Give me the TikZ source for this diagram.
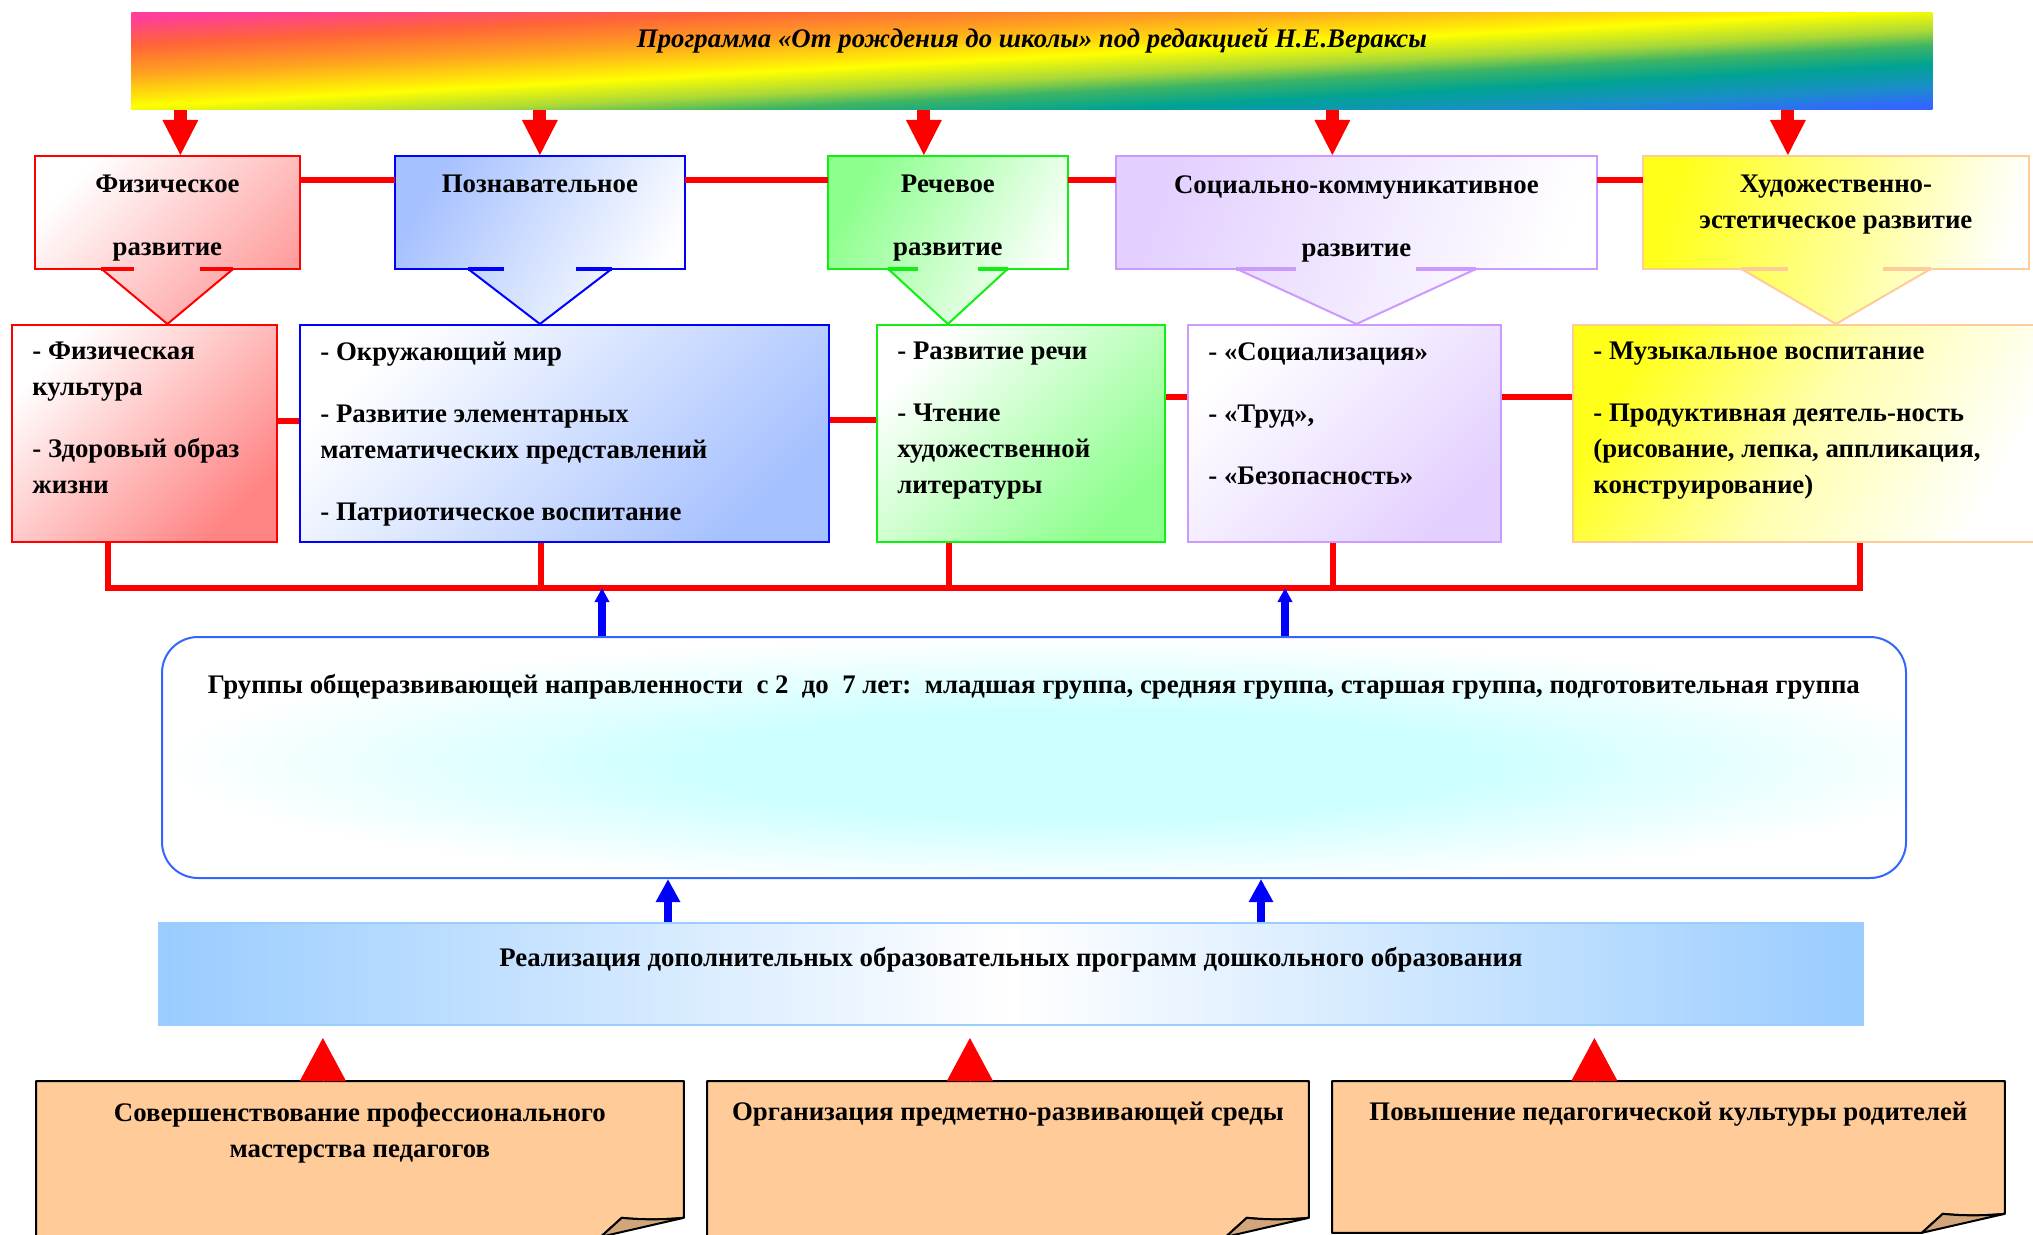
\documentclass[tikz,border=0pt]{standalone}
\usepackage{fontspec}
\setmainfont{Liberation Serif}
\usetikzlibrary{arrows.meta}
\usetikzlibrary{positioning,calc}

\definecolor{physred}{HTML}{FF0000}
\definecolor{physpink}{HTML}{FF9C9C}
\definecolor{physrose}{HTML}{FF8484}
\definecolor{cognblue}{HTML}{0000FF}
\definecolor{cognsky}{HTML}{A6C1FF}
\definecolor{speechgreen}{HTML}{11EE11}
\definecolor{speechmint}{HTML}{8CFF8C}
\definecolor{socviolet}{HTML}{CC99FF}
\definecolor{soclilac}{HTML}{E3D0FF}
\definecolor{artorange}{HTML}{FFCC99}
\definecolor{artyellow}{HTML}{FFFF1A}
\definecolor{artcream}{HTML}{FFFFB0}
\definecolor{groupblue}{HTML}{3366FF}
\definecolor{groupcyan}{HTML}{CCFFFF}
\definecolor{realblue}{HTML}{99CCFF}
\definecolor{notepeach}{HTML}{FFCC99}
\definecolor{noteflap}{HTML}{D2A67A}
\definecolor{rbpink}{HTML}{FF3D9A}
\definecolor{rbred}{HTML}{FF6438}
\definecolor{rborange}{HTML}{FFA020}
\definecolor{rbyellow}{HTML}{FFFF00}
\definecolor{rblime}{HTML}{A8D838}
\definecolor{rbgreen}{HTML}{3CB464}
\definecolor{rbteal}{HTML}{00A393}
\definecolor{rbsea}{HTML}{1A8EC8}
\definecolor{rbblue}{HTML}{3366FF}

\pgfdeclareverticalshading{rainbow}{100bp}{color(0bp)=(rbblue); color(25bp)=(rbblue); color(30bp)=(rbsea); color(36bp)=(rbteal); color(41bp)=(rbgreen); color(45bp)=(rblime); color(51bp)=(rbyellow); color(60bp)=(rborange); color(67.5bp)=(rbred); color(75bp)=(rbpink); color(100bp)=(rbpink)}
\pgfdeclareradialshading{glow}{\pgfpoint{2bp}{-2bp}}{color(0bp)=(groupcyan); color(11bp)=(groupcyan); color(26bp)=(white); color(50bp)=(white)}

\begin{document}
\begin{tikzpicture}[x=0.5pt,y=-0.5pt]
\tikzset{
    banner/.style={
        rectangle,
        shade,
        shading=rainbow,
        shading angle=3.1,
        anchor=north west,
        minimum width=900.5pt,
        minimum height=48.5pt,
    },
    area/.style={ % empty box, its outline and pointer are drawn later
        rectangle,
        inner sep=0pt,
        anchor=north west,
        minimum width=#1,
        minimum height=56pt,
    },
    items/.style={
        rectangle,
        draw,
        line width=1pt,
        inner sep=0pt,
        anchor=north west,
        minimum width=#1,
        minimum height=108.5pt,
    },
    groups/.style={
        rectangle,
        rounded corners=18pt,
        draw=groupblue,
        line width=1pt,
        shade,
        shading=glow,
        anchor=north west,
        minimum width=872pt,
        minimum height=120.5pt,
    },
    realise/.style={
        rectangle,
        draw=realblue,
        line width=1pt,
        left color=realblue,
        right color=realblue,
        middle color=white,
        anchor=north west,
        minimum width=852pt,
        minimum height=51pt,
    },
    note/.style={
        rectangle,
        inner sep=0pt,
        anchor=north west,
        minimum width=#1,
    },
    bannertext/.style={
        font=\fontsize{13.4pt}{18pt}\selectfont\bfseries\itshape,
        inner sep=0pt,
    },
    heading/.style={
        font=\fontsize{13.4pt}{18pt}\selectfont\bfseries,
        align=center,
        inner sep=0pt,
    },
    listing/.style={
        font=\fontsize{13.4pt}{18pt}\selectfont\bfseries,
        align=left,
        inner sep=0pt,
    },
    feed/.style={
        red,
        line width=6.5pt,
        -{Triangle[length=18pt, width=16.5pt]},
    },
    link/.style={
        red,
        line width=3pt,
    },
    lift/.style={
        blue,
        line width=4pt,
        -{Triangle[length=#1, width=#1]},
    },
    lift/.default=11.5pt,
    spike/.style={
        red,
        line width=0.4pt,
        -{Triangle[length=21.5pt, width=23pt]},
    },
}
\useasboundingbox (0,0) rectangle (2033,1235);

\node[banner] (banner) at (131,12) {};
\node[bannertext, below=8pt of banner.north] (title) {Программа «От рождения до школы» под редакцией Н.Е.Вераксы};

% five directions
\node[area=132pt] (phys) at (35,156) {};
\node[area=144.5pt] (cogn) at (395,156) {};
\node[area=119.5pt] (speech) at (828,156) {};
\node[area=240pt] (soc) at (1116,156) {};
\node[area=192.5pt] (art) at (1643,156) {};

% what each direction holds
\node[items=132.5pt, draw=physred, top color=white, bottom color=physrose, shading angle=45] (phys-list) at (11,324) {};
\node[items=264.5pt, draw=cognblue, top color=white, bottom color=cognsky, shading angle=45] (cogn-list) at (299,324) {};
\node[items=144pt, draw=speechgreen, top color=white, bottom color=speechmint, shading angle=45] (speech-list) at (876,324) {};
\node[items=156.5pt, draw=socviolet, top color=white, bottom color=soclilac, shading angle=45] (soc-list) at (1187,324) {};
\node[items=236.5pt, draw=artorange, top color=artyellow, bottom color=white, middle color=artcream, shading angle=60] (art-list) at (1572,324) {};

% boxes with pointers
\foreach \nm/\hb/\ec/\ca/\cb/\ang in {
    phys/66/physred/white/physpink/45,
    cogn/72/cognblue/cognsky/white/60,
    speech/60/speechgreen/speechmint/white/60,
    soc/120/socviolet/soclilac/white/70,
    art/95/artorange/artyellow/white/75}{
  \shade[top color=\ca, bottom color=\cb, shading angle=\ang]
    (\nm.north west) -- (\nm.north east) -- (\nm.south east)
    -- ($(\nm.south)+(\hb,0)$) -- (\nm.south |- \nm-list.north)
    -- ($(\nm.south)-(\hb,0)$) -- (\nm.south west) -- cycle;
  \draw[\ec, line width=1pt]
    ($(\nm.south)+(\hb/2,0)$) -- (\nm.south east) |- (\nm.north west)
    |- ($(\nm.south)-(\hb/2,0)$);
  \draw[\ec, line width=1pt]
    ($(\nm.south)+(\hb,0)$) -- (\nm.south |- \nm-list.north) -- ($(\nm.south)-(\hb,0)$);
  \draw[\ec, line width=2pt]
    ($(\nm.south)+(\hb,0)$) -- ($(\nm.south)+(\hb/2,0)$)
    ($(\nm.south)-(\hb,0)$) -- ($(\nm.south)-(\hb/2,0)$);
}

\foreach \nm/\dx in {phys/6.5pt, cogn/0pt, speech/-12pt, soc/-12pt, art/-24pt}
  \draw[feed] ([xshift=\dx]\nm.north |- banner.south) -- ([xshift=\dx]\nm.north);

\foreach \lft/\rgt in {phys/cogn, cogn/speech, speech/soc, soc/art}
  \draw[link] ([yshift=-12pt]\lft.north east) -- ([yshift=-12pt]\rgt.north west);
\foreach \lft/\rgt/\dy in {phys/cogn/48.5pt, cogn/speech/48pt, speech/soc/36.5pt, soc/art/36.5pt}
  \draw[link] ([yshift=-\dy]\lft-list.north east) -- ([yshift=-\dy]\rgt-list.north west);

\node[heading, below=9.5pt of phys.north] (phys-head) {Физическое\\[13.5pt]развитие};
\node[heading, below=9.5pt of cogn.north] (cogn-head) {Познавательное};
\node[heading, below=9.5pt of speech.north] (speech-head) {Речевое\\[13.5pt]развитие};
\node[heading, below=9.5pt of soc.north] (soc-head) {Социально-коммуникативное\\[13.5pt]развитие};
\node[heading, below=9.5pt of art.north] (art-head) {Художественно-\\эстетическое развитие};

\node[listing, below right=9pt and 10.5pt of phys-list.north west] (phys-text)
  {- Физическая\\культура\\[13pt]- Здоровый образ\\жизни};
\node[listing, below right=9pt and 10.5pt of cogn-list.north west] (cogn-text)
  {- Окружающий мир\\[13pt]- Развитие элементарных\\математических представлений\\[13pt]- Патриотическое воспитание};
\node[listing, below right=9pt and 10.5pt of speech-list.north west] (speech-text)
  {- Развитие речи\\[13pt]- Чтение\\художественной\\литературы};
\node[listing, below right=9pt and 10.5pt of soc-list.north west] (soc-text)
  {- «Социализация»\\[13pt]- «Труд»,\\[13pt]- «Безопасность»};
\node[listing, below right=9pt and 10.5pt of art-list.north west] (art-text)
  {- Музыкальное воспитание\\[13pt]- Продуктивная деятель-ность\\(рисование, лепка, аппликация,\\конструирование)};

% collecting line
\coordinate (bus) at (0,588);
\draw[link] ([xshift=-18.25pt]phys-list.south) -- ([xshift=-18.25pt]phys-list.south |- bus)
  -- ([xshift=25.25pt]art-list.south |- bus) -- ([xshift=25.25pt]art-list.south);
\foreach \nm/\dx in {cogn/-11.75pt, speech/-36pt, soc/-5.75pt}
  \draw[link] ([xshift=\dx]\nm-list.south) -- ([xshift=\dx]\nm-list.south |- bus);

\node[groups] (groups) at (161,636) {};
\node[listing, below=19pt of groups.north] (groups-text)
  {Группы общеразвивающей направленности\ \ с 2\ \ до\ \ 7 лет:\ \ младшая группа, средняя группа, старшая группа, подготовительная группа};
\foreach \dx in {-216pt, 125.5pt}
  \draw[lift=7pt] ([xshift=\dx]groups.north) -- ([xshift=\dx]groups.north |- bus);

\node[realise] (real) at (158,922) {};
\node[listing, below=12.5pt of real.north] (real-text)
  {Реализация дополнительных образовательных программ дошкольного образования};
\foreach \dx in {-171.5pt, 125pt}
  \draw[lift] ([xshift=\dx]real.north) -- ([xshift=\dx]real.north |- groups.south);

% notes with a turned corner
\node[note=323.5pt, minimum height=77.5pt] (skills) at (36,1081) {};
\node[note=300.5pt, minimum height=77.5pt] (milieu) at (707,1081) {};
\node[note=336pt, minimum height=75.5pt] (parents) at (1332,1081) {};
\foreach \nm in {skills, milieu, parents}{
  \filldraw[fill=notepeach, line width=1pt, line join=round]
    (\nm.north west) -- (\nm.north east) -- ([yshift=9.5pt]\nm.south east)
    .. controls ([xshift=-10pt,yshift=8.5pt]\nm.south east) and ([xshift=-22pt,yshift=8.5pt]\nm.south east)
    .. ([xshift=-31pt,yshift=9.5pt]\nm.south east)
    -- ([xshift=-41.5pt]\nm.south east) -- (\nm.south west) -- cycle;
  \filldraw[fill=noteflap, line width=1pt, line join=round]
    ([xshift=-41.5pt]\nm.south east) -- ([xshift=-31pt,yshift=9.5pt]\nm.south east)
    .. controls ([xshift=-22pt,yshift=8.5pt]\nm.south east) and ([xshift=-10pt,yshift=8.5pt]\nm.south east)
    .. ([yshift=9.5pt]\nm.south east) -- cycle;
}
\node[heading, below=10.5pt of skills.north] (skills-text) {Совершенствование профессионального\\мастерства педагогов};
\node[heading, below=10.5pt of milieu.north] (milieu-text) {Организация предметно-развивающей среды};
\node[heading, below=10.5pt of parents.north] (parents-text) {Повышение педагогической культуры родителей};
\foreach \nm/\dx in {skills/-18.5pt, milieu/-19pt, parents/-37pt}
  \draw[spike] ([xshift=\dx]\nm.north) -- ([xshift=\dx, yshift=21.5pt]\nm.north);
\end{tikzpicture}
\end{document}
